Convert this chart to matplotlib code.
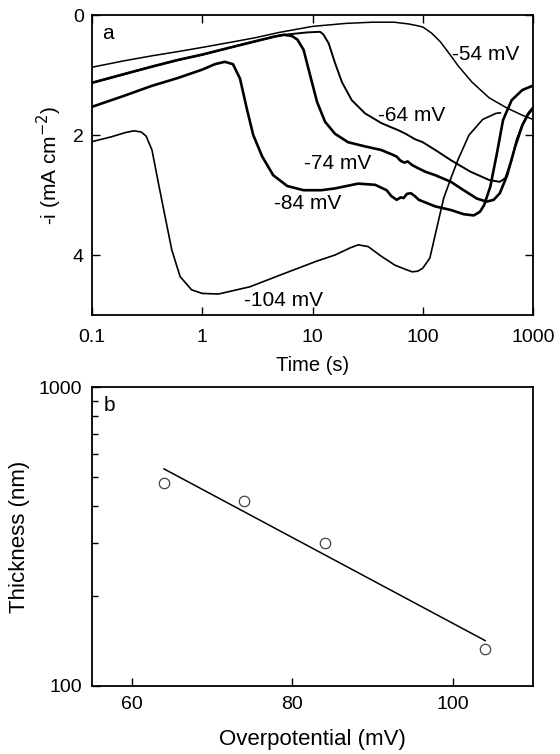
import numpy as np
import matplotlib
matplotlib.use("Agg")
import matplotlib.pyplot as plt
from matplotlib.ticker import LogLocator, NullFormatter, FixedLocator

plt.rcParams['font.family'] = ['Liberation Sans', 'DejaVu Sans']

# ---------------- panel a data ----------------
t54 = [0.1, 0.2, 0.35, 0.6, 1, 2, 3, 5, 10, 20, 35, 55, 75, 90, 100, 120, 145, 175, 210, 280, 400, 580, 800, 1000]
i54 = [0.87, 0.76, 0.68, 0.61, 0.54, 0.44, 0.38, 0.29, 0.19, 0.14, 0.12, 0.12, 0.15, 0.18, 0.2, 0.3, 0.45, 0.65, 0.85, 1.12, 1.38, 1.55, 1.67, 1.74]

t64 = [0.1, 0.2, 0.35, 0.6, 1, 2, 3, 4.5, 5.5, 7, 9, 11.7, 12.5, 14, 16, 18.5, 22.7, 30, 42, 50, 60, 70, 85, 100, 130, 180, 270, 400, 500, 560, 640, 710, 800, 900, 990]
i64 = [1.13, 0.98, 0.86, 0.75, 0.66, 0.52, 0.44, 0.36, 0.33, 0.31, 0.29, 0.28, 0.32, 0.47, 0.8, 1.12, 1.42, 1.64, 1.8, 1.86, 1.92, 1.98, 2.07, 2.12, 2.25, 2.42, 2.61, 2.75, 2.78, 2.72, 2.42, 2.08, 1.83, 1.64, 1.55]

t74 = [0.1, 0.2, 0.35, 0.6, 1, 2, 3, 4.5, 5.5, 6.5, 7.3, 8.3, 9.5, 11, 13, 16, 21, 30, 42, 52, 58, 63, 68, 73, 80, 90, 105, 130, 180, 235, 310, 380, 440, 500, 580, 690, 800, 900, 990]
i74 = [1.13, 0.98, 0.86, 0.75, 0.66, 0.52, 0.44, 0.36, 0.33, 0.35, 0.41, 0.58, 1.0, 1.45, 1.78, 1.98, 2.12, 2.19, 2.25, 2.32, 2.36, 2.43, 2.46, 2.44, 2.5, 2.55, 2.61, 2.67, 2.78, 2.92, 3.06, 3.11, 3.08, 2.97, 2.68, 2.19, 1.84, 1.66, 1.56]

t84 = [0.1, 0.2, 0.35, 0.6, 1, 1.3, 1.6, 1.9, 2.2, 2.55, 2.9, 3.5, 4.4, 5.9, 8.3, 12, 16, 26, 37, 47, 52, 58, 63, 67, 72, 78, 85, 92, 130, 180, 235, 290, 330, 360, 410, 470, 535, 640, 800, 990]
i84 = [1.53, 1.34, 1.18, 1.05, 0.91, 0.82, 0.78, 0.82, 1.06, 1.58, 2.0, 2.36, 2.67, 2.85, 2.92, 2.92, 2.89, 2.81, 2.83, 2.92, 3.02, 3.08, 3.04, 3.05, 2.98, 2.97, 3.02, 3.08, 3.19, 3.25, 3.32, 3.34, 3.28, 3.17, 2.86, 2.31, 1.75, 1.42, 1.25, 1.18]

t104 = [0.1, 0.15, 0.2, 0.24, 0.28, 0.31, 0.35, 0.4, 0.46, 0.53, 0.63, 0.8, 1.0, 1.4, 2.7, 5.5, 11, 16, 22, 26, 32, 42, 56, 70, 80, 90, 100, 116, 134, 155, 180, 210, 263, 350, 460, 505]
i104 = [2.11, 2.03, 1.96, 1.93, 1.95, 2.02, 2.25, 2.8, 3.36, 3.92, 4.36, 4.58, 4.64, 4.65, 4.53, 4.31, 4.1, 4.0, 3.88, 3.83, 3.86, 4.02, 4.17, 4.24, 4.28, 4.27, 4.22, 4.05, 3.55, 3.05, 2.72, 2.4, 2.0, 1.74, 1.64, 1.63]

curve_labels = ["-54 mV", "-64 mV", "-74 mV", "-84 mV", "-104 mV"]

# ---------------- panel b data ----------------
overpotential = [64, 74, 84, 104]
thickness = [479, 417, 300, 133]

fig = plt.figure(figsize=(5.6, 7.54), dpi=100)

# ---- panel a ----
ax1 = fig.add_axes([0.1643, 0.5822, 0.7875, 0.3979])
ax1.plot(t54, i54, color='black', lw=1.1)
ax1.plot(t64, i64, color='black', lw=1.4)
ax1.plot(t74, i74, color='black', lw=1.9)
ax1.plot(t84, i84, color='black', lw=1.9)
ax1.plot(t104, i104, color='black', lw=1.2)
ax1.set_xscale('log')
ax1.set_xlim(0.1, 1000)
ax1.set_ylim(5, 0)
ax1.set_yticks([0, 2, 4])
ax1.set_xticks([0.1, 1, 10, 100, 1000])
ax1.set_xticklabels(['0.1', '1', '10', '100', '1000'])
ax1.xaxis.set_minor_locator(plt.NullLocator())
ax1.tick_params(which='major', direction='in', length=6, width=1.0, top=True, right=True,
                labelsize=14, pad=6)
ax1.tick_params(axis='x', pad=10)
ax1.set_xlabel('Time (s)', fontsize=14.5, labelpad=7)
ax1.set_ylabel('-i (mA cm$^{-2}$)', fontsize=15, labelpad=6)
for s in ax1.spines.values():
    s.set_linewidth(1.3)

ann = [(185, 0.66), (39, 1.67), (8.3, 2.47), (4.5, 3.14), (2.37, 4.75)]
for (tx, ty), lab in zip(ann, curve_labels):
    ax1.text(tx, ty, lab, fontsize=15, ha='left', va='center')
ax1.text(0.124, 0.31, 'a', fontsize=15, ha='left', va='center')

# ---- panel b ----
ax2 = fig.add_axes([0.1638, 0.0902, 0.7886, 0.3961])
ax2.plot(overpotential, thickness, linestyle='none', marker='o', markersize=7.5,
         markerfacecolor='white', markeredgecolor='#444444', markeredgewidth=0.9)
coef = np.polyfit(overpotential, np.log10(thickness), 1)
xfit = np.array([min(overpotential), max(overpotential)])
ax2.plot(xfit, 10 ** np.polyval(coef, xfit), color='black', lw=1.1)
ax2.set_yscale('log')
ax2.set_xlim(55, 110)
ax2.set_ylim(100, 1000)
ax2.set_xticks([60, 80, 100])
ax2.yaxis.set_major_locator(FixedLocator([100, 1000]))
ax2.set_yticklabels(['100', '1000'])
ax2.yaxis.set_minor_locator(LogLocator(base=10, subs=np.arange(2, 10)))
ax2.yaxis.set_minor_formatter(NullFormatter())
ax2.tick_params(which='major', direction='in', length=6, width=1.0, labelsize=14)
ax2.tick_params(axis='y', which='major', pad=7)
ax2.tick_params(axis='x', which='major', pad=7)
ax2.tick_params(which='minor', direction='in', length=4.5, width=1.0)
ax2.set_xlabel('Overpotential (mV)', fontsize=16, labelpad=12)
ax2.set_ylabel('Thickness (nm)', fontsize=16, labelpad=6)
for s in ax2.spines.values():
    s.set_linewidth(1.3)
ax2.text(56.5, 869, 'b', fontsize=15, ha='left', va='center')

fig.savefig('out.png', dpi=100)
